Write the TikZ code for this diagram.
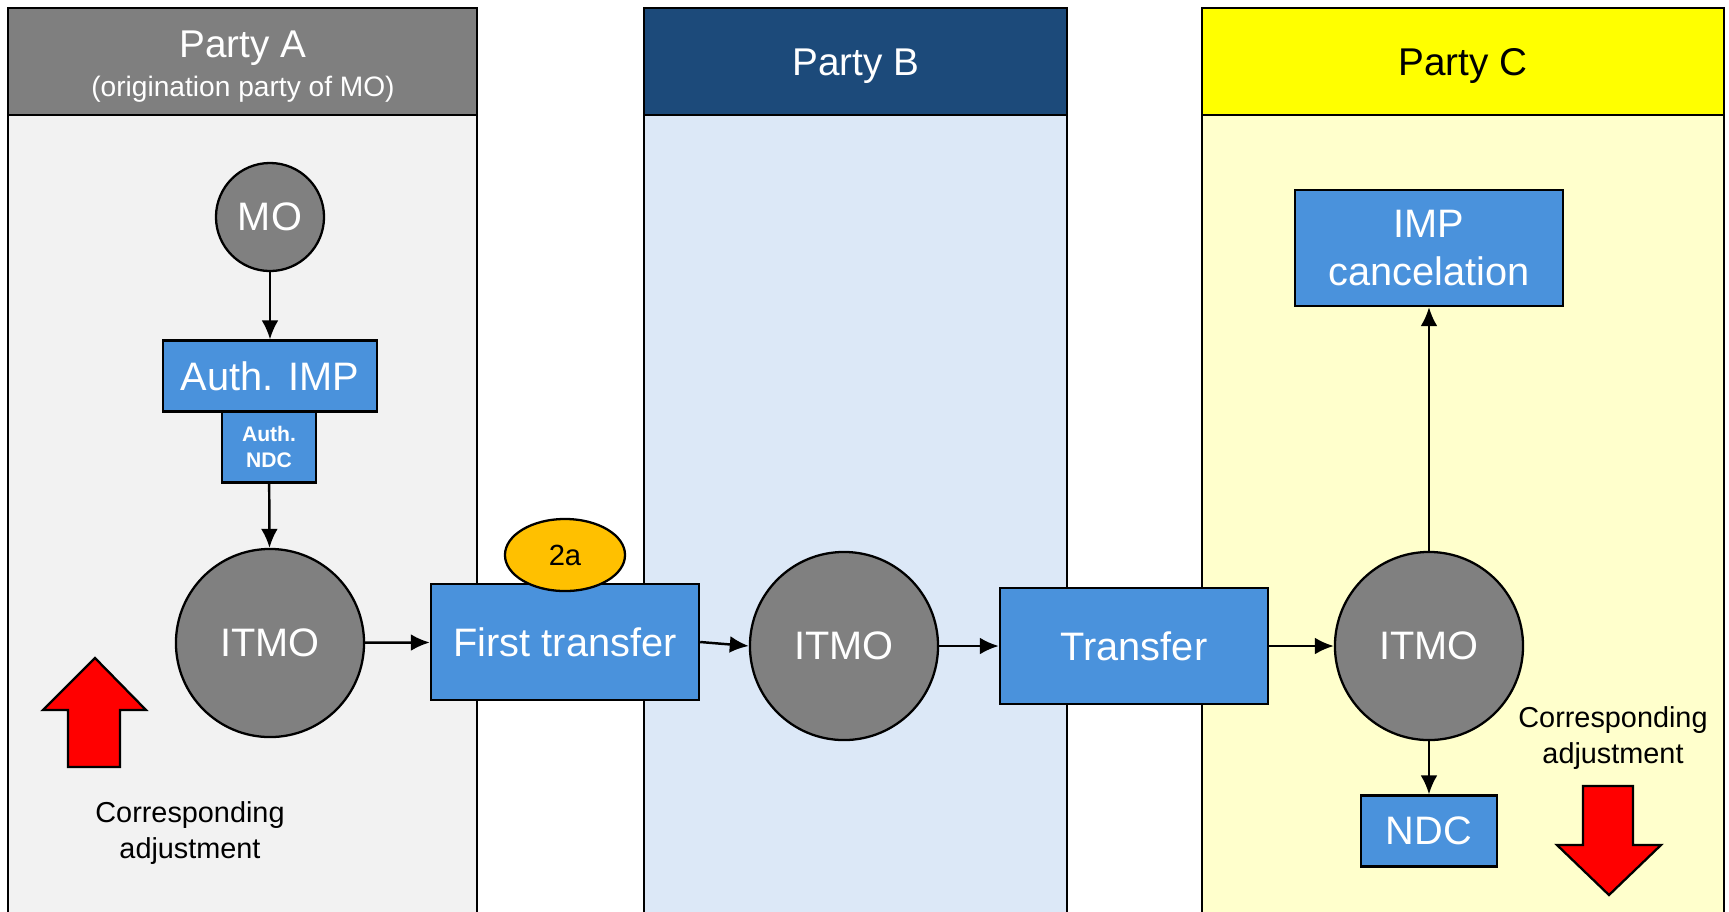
\documentclass[tikz,border=0pt]{standalone}
\usepackage{fontspec}
\setmainfont{Liberation Sans}
\usepackage{xcolor}
\usepackage{tikz}
\usetikzlibrary{shapes.geometric}
\usetikzlibrary{arrows.meta}

\definecolor{headgray}{RGB}{127,127,127}
\definecolor{lanegray}{RGB}{242,242,242}
\definecolor{headblue}{RGB}{28,74,122}
\definecolor{laneblue}{RGB}{220,232,247}
\definecolor{headyellow}{RGB}{255,255,0}
\definecolor{laneyellow}{RGB}{255,255,204}
\definecolor{boxblue}{RGB}{74,146,220}
\definecolor{circgray}{RGB}{128,128,128}
\definecolor{tagorange}{RGB}{255,192,0}

\tikzset{
    lanebody/.style = {draw = black, line width = 0.65pt},
    blockbox/.style = {draw = black, fill = boxblue, text = white, line width = 0.65pt,
        inner sep = 0pt, align = center, font = \fontsize{11.3}{13.6}\selectfont},
    itmocirc/.style = {circle, draw = black, fill = circgray, text = white, line width = 0.65pt,
        inner sep = 0pt, minimum size = 1.88cm, font = \fontsize{11.3}{13}\selectfont},
    flow/.style = {-{Latex[length = 5.4pt, width = 4.8pt]}, line width = 0.7pt},
    bigarrow/.style = {draw = black, fill = red, line width = 0.65pt},
    note/.style = {align = center, font = \fontsize{8.2}{10.5}\selectfont}
}

\begin{document}
\begin{tikzpicture}[x = 0.01cm, y = -0.01cm]
            \useasboundingbox (0, 0) rectangle (1729, 911);

            % lanes
            \filldraw[lanebody, fill = lanegray] (8, 115) rectangle (477, 930);
            \filldraw[lanebody, fill = headgray] (8, 8) rectangle (477, 115);
            \filldraw[lanebody, fill = laneblue] (644, 115) rectangle (1067, 930);
            \filldraw[lanebody, fill = headblue] (644, 8) rectangle (1067, 115);
            \filldraw[lanebody, fill = laneyellow] (1202, 115) rectangle (1724, 930);
            \filldraw[lanebody, fill = headyellow] (1202, 8) rectangle (1724, 115);

            \node[text = white, font = \fontsize{11}{13}\selectfont] (partyA) at (243, 48) {Party A};
            \node[text = white, font = \fontsize{8}{9.6}\selectfont] (partyAsub) at (243, 89) {(origination party of MO)};
            \node[text = white, font = \fontsize{11}{13}\selectfont] (partyB) at (856, 66) {Party B};
            \node[text = black, font = \fontsize{11}{13}\selectfont] (partyC) at (1463, 66) {Party C};

            % party A
            \node[itmocirc, minimum size = 1.08cm] (mo) at (270, 217) {MO};
            \node[blockbox, minimum width = 2.14cm, minimum height = 0.71cm] (authimp) at (270, 376) {Auth. IMP};
            \node[blockbox, minimum width = 0.94cm, minimum height = 0.71cm,
                font = \fontsize{6}{7.4}\selectfont\bfseries] (authndc) at (269, 447) {Auth.\\NDC};
            \node[itmocirc] (itmoA) at (270, 643) {ITMO};

            % transfers and party B
            \node[blockbox, minimum width = 2.68cm, minimum height = 1.16cm] (first) at (565, 642) {First transfer};
            \node[ellipse, draw = black, fill = tagorange, line width = 0.65pt, inner sep = 0pt,
                minimum width = 1.2cm, minimum height = 0.72cm, font = \fontsize{8.3}{10}\selectfont] (tag) at (565, 555) {2a};
            \node[itmocirc] (itmoB) at (844, 646) {ITMO};
            \node[blockbox, minimum width = 2.68cm, minimum height = 1.16cm] (transfer) at (1134, 646) {Transfer};

            % party C
            \node[itmocirc] (itmoC) at (1429, 646) {ITMO};
            \node[blockbox, minimum width = 2.68cm, minimum height = 1.16cm] (cancel) at (1429, 248) {IMP\\cancelation};
            \node[blockbox, minimum width = 1.36cm, minimum height = 0.71cm] (ndc) at (1429, 831) {NDC};

            \draw[flow] (mo) -- (authimp);
            \draw[flow] (authndc) -- (itmoA);
            \draw[flow] (itmoA) -- (first);
            \draw[flow] (first.east) -- (itmoB.west);
            \draw[flow] (itmoB) -- (transfer);
            \draw[flow] (transfer) -- (itmoC);
            \draw[flow] (itmoC) -- (cancel);
            \draw[flow] (itmoC) -- (ndc);

            % corresponding adjustments
            \filldraw[bigarrow] (95, 658) -- (146, 710) -- (120, 710) -- (120, 767)
                -- (68, 767) -- (68, 710) -- (43, 710) -- cycle;
            \node[note] (adjA) at (190, 833) {Corresponding\\adjustment};
            \filldraw[bigarrow] (1609, 895) -- (1661, 845) -- (1633, 845) -- (1633, 786)
                -- (1583, 786) -- (1583, 845) -- (1557, 845) -- cycle;
            \node[note] (adjC) at (1613, 738) {Corresponding\\adjustment};
        \end{tikzpicture}
\end{document}
